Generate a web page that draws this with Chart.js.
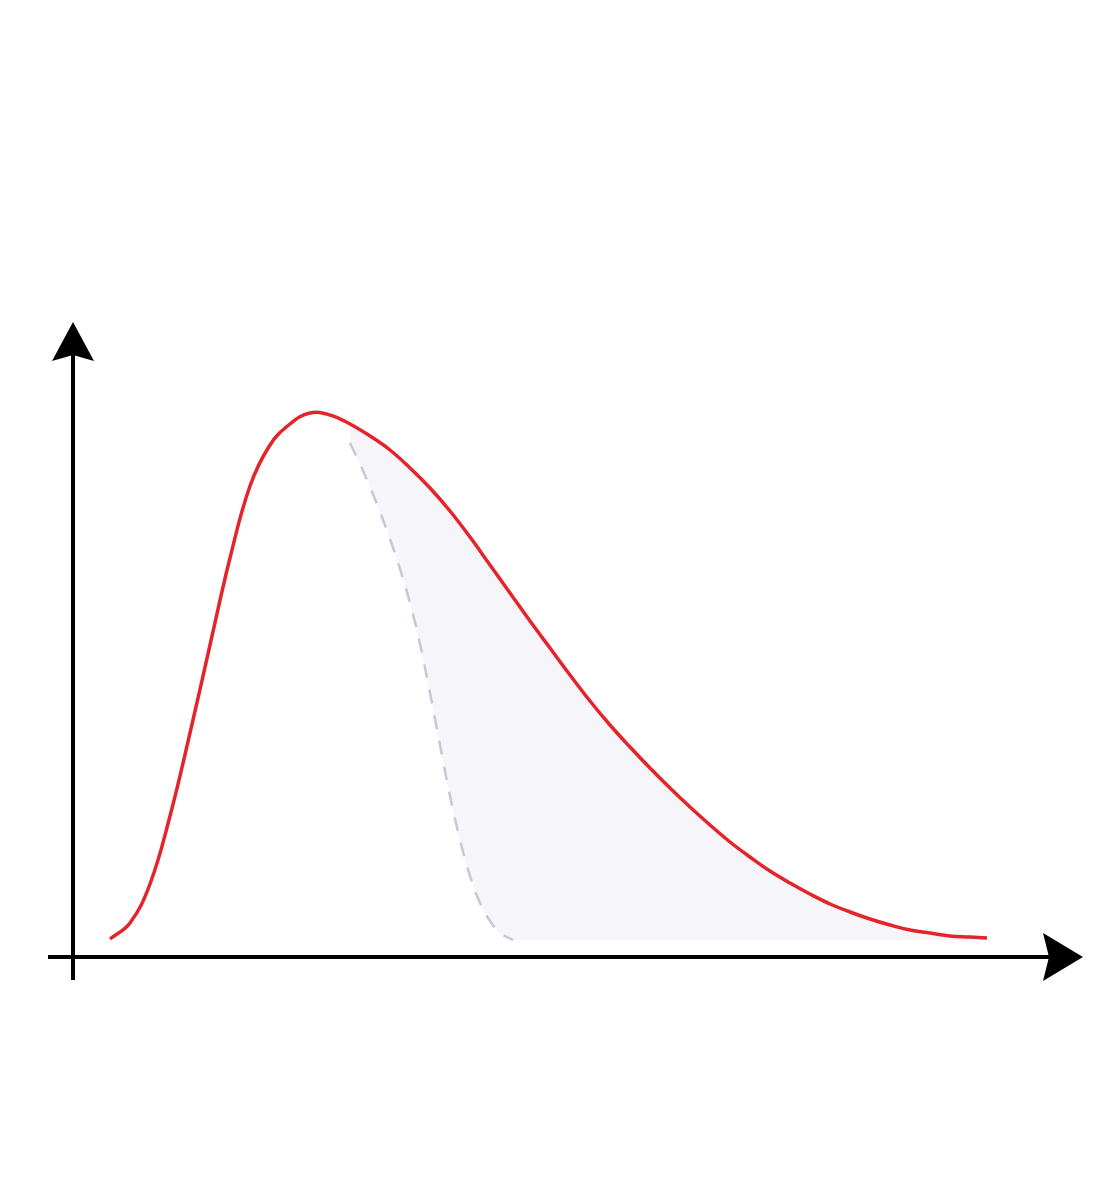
<!DOCTYPE html>
<html>
<head>
<meta charset="utf-8">
<script src="https://cdn.jsdelivr.net/npm/chart.js@4"></script>
<style>
  html, body { margin: 0; padding: 0; background: #fff; }
  #wrap { width: 1099px; height: 1200px; position: relative; }
</style>
</head>
<body>
<div id="wrap"><canvas id="curva"></canvas></div>
<script>
// curva principal (roja)
const curvaX = [0.0, 0.2, 0.4, 0.6, 0.8, 1.0, 1.2, 1.4, 1.6, 1.8, 2.0, 2.2, 2.4, 2.6, 2.8, 3.0, 3.2, 3.4, 3.6, 3.8,
                4.0, 4.2, 4.4, 4.6, 4.8, 5.0, 5.2, 5.4, 5.6, 5.8, 6.0, 6.2, 6.4, 6.6, 6.8, 7.0, 7.2, 7.4, 7.6, 7.8,
                8.0, 8.2, 8.4, 8.6, 8.77];
const curvaY = [0.01, 0.17, 0.56, 1.24, 2.07, 2.95, 3.82, 4.54, 4.95, 5.16, 5.27, 5.25, 5.16, 5.04, 4.90, 4.72, 4.52, 4.29, 4.03, 3.75,
                3.47, 3.19, 2.92, 2.65, 2.39, 2.15, 1.93, 1.72, 1.52, 1.33, 1.15, 0.98, 0.83, 0.69, 0.57, 0.46, 0.36, 0.28, 0.21, 0.15,
                0.10, 0.07, 0.04, 0.03, 0.02];

// curva discontinua (gris azulada)
const discX = [2.40, 2.50, 2.60, 2.70, 2.80, 2.90, 3.00, 3.10, 3.20, 3.30, 3.40, 3.50, 3.60, 3.70, 3.80, 3.90, 4.03];
const discY = [4.97, 4.76, 4.53, 4.28, 4.01, 3.71, 3.37, 2.96, 2.47, 1.95, 1.44, 1.00, 0.64, 0.37, 0.19, 0.07, 0.00];

const toPts = (xs, ys) => xs.map((x, i) => ({ x: x, y: ys[i] }));
const rojo = toPts(curvaX, curvaY);
const disc = toPts(discX, discY);
// zona sombreada: parte de la curva roja a la derecha del inicio de la discontinua
const sombra = rojo.filter(p => p.x >= discX[0]);

// ejes con flechas
const ejesPlugin = {
    id: 'ejes',
    afterDraw(chart) {
        const ctx = chart.ctx;
        const a = chart.chartArea;
        ctx.save();
        ctx.strokeStyle = '#000';
        ctx.fillStyle = '#000';
        ctx.lineWidth = 4;
        ctx.beginPath();
        ctx.moveTo(a.left, a.top + 20);
        ctx.lineTo(a.left, a.bottom + 23);
        ctx.moveTo(a.left - 25, a.bottom);
        ctx.lineTo(a.right - 20, a.bottom);
        ctx.stroke();
        // flecha vertical
        ctx.beginPath();
        ctx.moveTo(a.left, a.top);
        ctx.lineTo(a.left + 21, a.top + 39);
        ctx.lineTo(a.left, a.top + 33);
        ctx.lineTo(a.left - 21, a.top + 39);
        ctx.closePath();
        ctx.fill();
        // flecha horizontal
        ctx.beginPath();
        ctx.moveTo(a.right, a.bottom);
        ctx.lineTo(a.right - 40, a.bottom - 24);
        ctx.lineTo(a.right - 34, a.bottom);
        ctx.lineTo(a.right - 40, a.bottom + 24);
        ctx.closePath();
        ctx.fill();
        ctx.restore();
    }
};

new Chart(document.getElementById('curva').getContext('2d'), {
    type: 'line',
    data: {
        datasets: [{
            label: 'sombra',
            data: sombra,
            borderWidth: 0,
            pointRadius: 0,
            backgroundColor: 'rgba(238,238,247,0.6)',
            fill: 'origin',
            tension: 0.4,
            order: 3
        }, {
            label: 'discontinua',
            data: disc,
            borderColor: '#c5c8d6',
            borderWidth: 2.5,
            borderDash: [14, 12],
            pointRadius: 0,
            backgroundColor: '#ffffff',
            fill: 'origin',
            tension: 0.4,
            order: 2
        }, {
            label: 'curva',
            data: rojo,
            borderColor: '#e5232b',
            borderWidth: 3.5,
            pointRadius: 0,
            fill: false,
            tension: 0.4,
            order: 1
        }]
    },
    options: {
        responsive: true,
        maintainAspectRatio: false,
        animation: false,
        layout: { padding: { left: 73, right: 16, top: 322, bottom: 243 } },
        plugins: { legend: { display: false }, tooltip: { enabled: false } },
        scales: {
            x: { type: 'linear', min: -0.37, max: 9.73, display: false },
            y: { min: -0.17, max: 6.18, display: false }
        }
    },
    plugins: [ejesPlugin]
});
</script>
</body>
</html>
